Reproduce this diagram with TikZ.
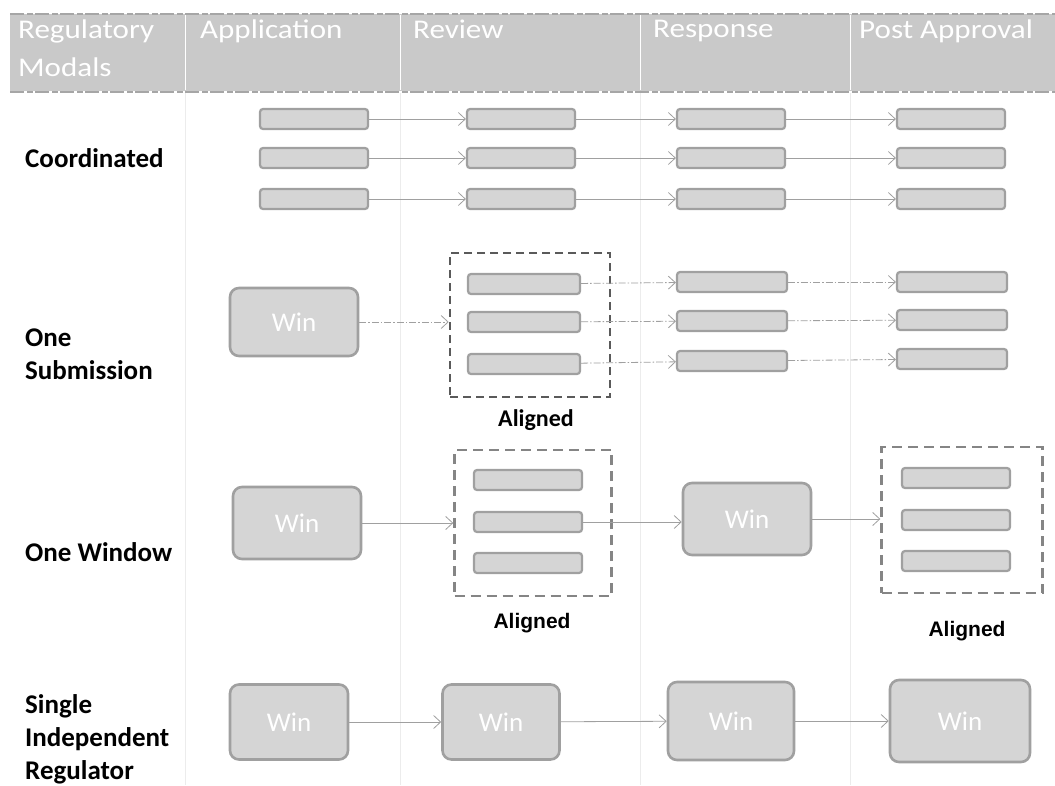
\documentclass[tikz,border=0pt]{standalone}
\usepackage{fontspec}
\setmainfont{Carlito}
\newfontfamily\arialfont{Liberation Sans}
\usetikzlibrary{arrows.meta}
\definecolor{hdrgray}{HTML}{C9C9C9}
\definecolor{boxfill}{HTML}{D5D5D5}
\definecolor{boxedge}{HTML}{A0A0A0}
\definecolor{arrgray}{HTML}{A0A0A0}
\definecolor{dashdark}{HTML}{5A5A5A}
\definecolor{dashgray}{HTML}{858585}
\newcommand{\hstretch}[1]{\scalebox{1.15}[1]{#1}}
\tikzset{
  hdrtext/.style={anchor=north west, text=white, font=\fontsize{27}{38}\selectfont, align=left, inner sep=0pt},
  rowlabel/.style={anchor=west, font=\bfseries\fontsize{27}{33}\selectfont, align=left, inner sep=0pt},
  bar/.style={rectangle, rounded corners=3pt, fill=boxfill, draw=boxedge, line width=2.2pt, minimum width=108pt, minimum height=20pt, inner sep=0pt},
  winbox/.style={rectangle, rounded corners=9pt, fill=boxfill, draw=boxedge, line width=2.6pt, text=white, font=\fontsize{27}{27}\selectfont, inner sep=0pt},
  dboxa/.style={rectangle, draw=dashdark, line width=2.6pt, dash pattern=on 8pt off 5pt, inner sep=0pt},
  dboxb/.style={rectangle, draw=dashgray, line width=2.4pt, dash pattern=on 10pt off 6pt, inner sep=0pt},
  arr/.style={draw=arrgray, line width=0.8pt, -{Straight Barb[length=7pt,width=13pt]}},
  darr/.style={arr, dash pattern=on 7pt off 2pt on 1.5pt off 2pt},
  alignedA/.style={font=\bfseries\fontsize{24}{24}\selectfont, inner sep=0pt},
  alignedB/.style={font=\arialfont\bfseries\fontsize{21}{21}\selectfont, inner sep=0pt},
  grid/.style={draw=gray!15, line width=0.6pt},
  hdredge/.style={draw=gray!70, line width=1.2pt, dash pattern=on 14pt off 3pt on 6pt off 2pt}
}
\begin{document}
\begin{tikzpicture}[x=1pt,y=-1pt]
\useasboundingbox (0,0) rectangle (1055,785);
\fill[white] (0,0) rectangle (1055,785);
% header
\fill[hdrgray] (10,14) rectangle (1055,91);
\draw[hdredge] (10,14) -- (1055,14);
\draw[hdredge] (10,92) -- (1055,92);
\foreach \xx in {185,400,640,850} \draw[white, line width=1pt] (\xx,15) -- (\xx,90);
\foreach \xx in {185,400,640,850} \draw[grid] (\xx,93) -- (\xx,785);
\node[hdrtext] (h0) at (18,20) {\hstretch{Regulatory}\\\hstretch{Modals}};
\node[hdrtext] (h1) at (200,20) {\hstretch{Application}};
\node[hdrtext] (h2) at (413,20) {\hstretch{Review}};
\node[hdrtext] (h3) at (653,20) {\hstretch{Response}};
\node[hdrtext] (h4) at (859,20) {\hstretch{Post Approval}};
% row labels
\node[rowlabel] (l1) at (25,158) {Coordinated};
\node[rowlabel] (l2) at (25,354) {One\\Submission};
\node[rowlabel] (l3) at (25,552) {One Window};
\node[rowlabel] (l4) at (25,739) {Single\\Independent\\Regulator};
% row 1 Coordinated
\foreach \r/\yy in {1/119,2/158,3/199}{
  \node[bar] (c1\r) at (314,\yy) {};
  \node[bar] (c2\r) at (521,\yy) {};
  \node[bar] (c3\r) at (731,\yy) {};
  \node[bar] (c4\r) at (951,\yy) {};
  \draw[arr] (c1\r) -- (c2\r);
  \draw[arr] (c2\r) -- (c3\r);
  \draw[arr] (c3\r) -- (c4\r);
}
% row 2 One Submission
\node[winbox, minimum width=128pt, minimum height=68pt] (s1) at (294,322) {Win};
\node[dboxa, minimum width=160pt, minimum height=144pt] (sd) at (530,325) {};
\node[bar, minimum width=112pt] (s21) at (524,284) {};
\node[bar, minimum width=112pt] (s22) at (524,322) {};
\node[bar, minimum width=112pt] (s23) at (524,364) {};
\node[bar, minimum width=110pt] (s31) at (732,282) {};
\node[bar, minimum width=110pt] (s32) at (732,321) {};
\node[bar, minimum width=110pt] (s33) at (732,361) {};
\node[bar, minimum width=110pt] (s41) at (952,282) {};
\node[bar, minimum width=110pt] (s42) at (952,320) {};
\node[bar, minimum width=110pt] (s43) at (952,359) {};
\draw[darr] (s1.east) -- (sd.west |- s1.east);
\foreach \r in {1,2,3}{
  \draw[darr] (s2\r) -- (s3\r);
  \draw[darr] (s3\r) -- (s4\r);
}
\node[alignedA] (a1) at (536,420) {Aligned};
% row 3 One Window
\node[winbox, minimum width=128pt, minimum height=72pt] (w1) at (297,523) {Win};
\node[dboxb, minimum width=157pt, minimum height=146pt] (wd1) at (533,523) {};
\node[bar] (w21) at (528,480) {};
\node[bar] (w22) at (528,522) {};
\node[bar] (w23) at (528,563) {};
\node[winbox, minimum width=128pt, minimum height=72pt] (w3) at (747,519) {Win};
\node[dboxb, minimum width=161pt, minimum height=146pt] (wd2) at (962,520) {};
\node[bar] (w41) at (956,478) {};
\node[bar] (w42) at (956,520) {};
\node[bar] (w43) at (956,561) {};
\draw[arr] (w1.east) -- (wd1.west |- w1.east);
\draw[arr] (w22.east) -- (w3.west |- w22.east);
\draw[arr] (w3.east) -- (wd2.west |- w3.east);
\node[alignedB] (a2) at (532,623) {Aligned};
\node[alignedB] (a3) at (967,631) {Aligned};
% row 4 Single Independent Regulator
\node[winbox, minimum width=118pt, minimum height=75pt] (r1) at (289,722) {Win};
\node[winbox, minimum width=117pt, minimum height=75pt] (r2) at (501,722) {Win};
\node[winbox, minimum width=126pt, minimum height=78pt] (r3) at (731,721) {Win};
\node[winbox, minimum width=140pt, minimum height=82pt] (r4) at (960,721) {Win};
\draw[arr] (r1) -- (r2);
\draw[arr] (r2) -- (r3);
\draw[arr] (r3) -- (r4);
\end{tikzpicture}
\end{document}
